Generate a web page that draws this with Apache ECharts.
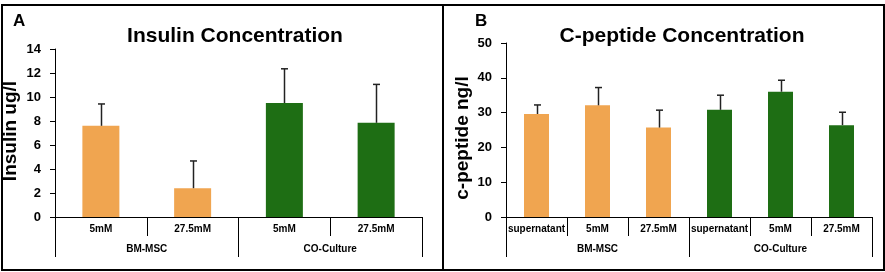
<!DOCTYPE html>
<html>
<head>
<meta charset="utf-8">
<script src="https://cdn.jsdelivr.net/npm/echarts@6/dist/echarts.min.js"></script>
<style>
  html, body { margin: 0; padding: 0; background: #fff; }
  #chart { width: 885px; height: 272px; }
</style>
</head>
<body>
<div id="chart"></div>
<script>
var myChart = echarts.init(document.getElementById('chart'));

// panel A - insulin
var catsA = ['5mM', '27.5mM', '5mM', '27.5mM'];
var groupsA = ['BM-MSC', 'CO-Culture'];
var meanA = [7.6, 2.4, 9.5, 7.85];
var sdA = [1.82, 2.27, 2.85, 3.2];
var ticksA = { min: 0, max: 14, interval: 2 };

// panel B - c-peptide
var catsB = ['supernatant', '5mM', '27.5mM', 'supernatant', '5mM', '27.5mM'];
var groupsB = ['BM-MSC', 'CO-Culture'];
var meanB = [29.6, 32.1, 25.7, 30.8, 36.0, 26.4];
var sdB = [2.6, 5.1, 5.0, 4.2, 3.3, 3.7];
var ticksB = { min: 0, max: 50, interval: 10 };

var ORANGE = '#F0A550';
var GREEN = '#1E6E14';

function errData(mean, sd) {
    return mean.map(function (m, i) { return [i, m, m + sd[i]]; });
}

function barColor(n) {
    return function (p) { return p.dataIndex < n / 2 ? ORANGE : GREEN; };
}

function renderErr(params, api) {
    var top = api.coord([api.value(0), api.value(2)]);
    var base = api.coord([api.value(0), api.value(1)]);
    var x = Math.round(base[0]) + 0.5;
    return {
        type: 'group',
        children: [
            { type: 'line', shape: { x1: x, y1: base[1], x2: x, y2: top[1] },
              style: { stroke: '#222', lineWidth: 1.5 } },
            { type: 'line', shape: { x1: x - 3.5, y1: top[1], x2: x + 3.5, y2: top[1] },
              style: { stroke: '#222', lineWidth: 1.5 } }
        ]
    };
}

function catAxis(grid, data) {
    return {
        type: 'category', gridIndex: grid, data: data, position: 'bottom',
        axisLine: { show: true, lineStyle: { color: '#000', width: 1 } },
        axisTick: { show: true, interval: 0, length: 19, lineStyle: { color: '#000' } },
        axisLabel: { color: '#000', fontSize: 10, fontWeight: 'bold', margin: 7,
                     fontFamily: 'Liberation Sans', interval: 0 }
    };
}

function groupAxis(grid, data) {
    return {
        type: 'category', gridIndex: grid, data: data, position: 'bottom',
        axisLine: { show: false },
        axisTick: { show: true, interval: 0, length: 40, lineStyle: { color: '#000' } },
        axisLabel: { color: '#000', fontSize: 10, fontWeight: 'bold', margin: 27,
                     fontFamily: 'Liberation Sans' }
    };
}

function valAxis(grid, t) {
    return {
        type: 'value', gridIndex: grid, min: t.min, max: t.max, interval: t.interval,
        axisLine: { show: true, lineStyle: { color: '#000', width: 1 } },
        axisTick: { show: true, length: 5, lineStyle: { color: '#000' } },
        splitLine: { show: false },
        axisLabel: { color: '#000', fontSize: 13, fontWeight: 'bold', margin: 14,
                     fontFamily: 'Liberation Sans' }
    };
}

var titleFont = { color: '#000', fontSize: 21, fontWeight: 'bold', fontFamily: 'Liberation Sans' };

option = {
    animation: false,
    backgroundColor: '#fff',
    title: [
        { text: 'Insulin Concentration', left: 230, top: 21, textAlign: 'center', textStyle: titleFont },
        { text: 'C-peptide Concentration', left: 677, top: 21, textAlign: 'center', textStyle: titleFont }
    ],
    grid: [
        { left: 55, right: 463, top: 49, bottom: 55 },
        { left: 506, right: 13, top: 43, bottom: 55 }
    ],
    xAxis: [
        catAxis(0, catsA),
        groupAxis(0, groupsA),
        catAxis(1, catsB),
        groupAxis(1, groupsB)
    ],
    yAxis: [valAxis(0, ticksA), valAxis(1, ticksB)],
    series: [
        { type: 'bar', xAxisIndex: 0, yAxisIndex: 0, data: meanA, barWidth: 37,
          itemStyle: { color: barColor(meanA.length) } },
        { type: 'custom', xAxisIndex: 0, yAxisIndex: 0, data: errData(meanA, sdA),
          renderItem: renderErr, z: 5 },
        { type: 'bar', xAxisIndex: 2, yAxisIndex: 1, data: meanB, barWidth: 25,
          itemStyle: { color: barColor(meanB.length) } },
        { type: 'custom', xAxisIndex: 2, yAxisIndex: 1, data: errData(meanB, sdB),
          renderItem: renderErr, z: 5 }
    ],
    graphic: [
        { type: 'rect', shape: { x: 2, y: 5, width: 441, height: 265 },
          style: { fill: null, stroke: '#000', lineWidth: 2 } },
        { type: 'rect', shape: { x: 443, y: 5, width: 441, height: 265 },
          style: { fill: null, stroke: '#000', lineWidth: 2 } },
        { type: 'text', x: 13, y: 13, style: { text: 'A', fill: '#000', font: 'bold 17px "Liberation Sans"' } },
        { type: 'text', x: 475, y: 13, style: { text: 'B', fill: '#000', font: 'bold 17px "Liberation Sans"' } },
        { type: 'text', x: 11, y: 131, rotation: Math.PI / 2,
          style: { text: 'Insulin ug/l', fill: '#000', font: 'bold 19px "Liberation Sans"',
                   align: 'center', verticalAlign: 'middle' } },
        { type: 'text', x: 463, y: 138, rotation: Math.PI / 2,
          style: { text: 'c-peptide ng/l', fill: '#000', font: 'bold 19px "Liberation Sans"',
                   align: 'center', verticalAlign: 'middle' } }
    ]
};

myChart.setOption(option);
</script>
</body>
</html>
